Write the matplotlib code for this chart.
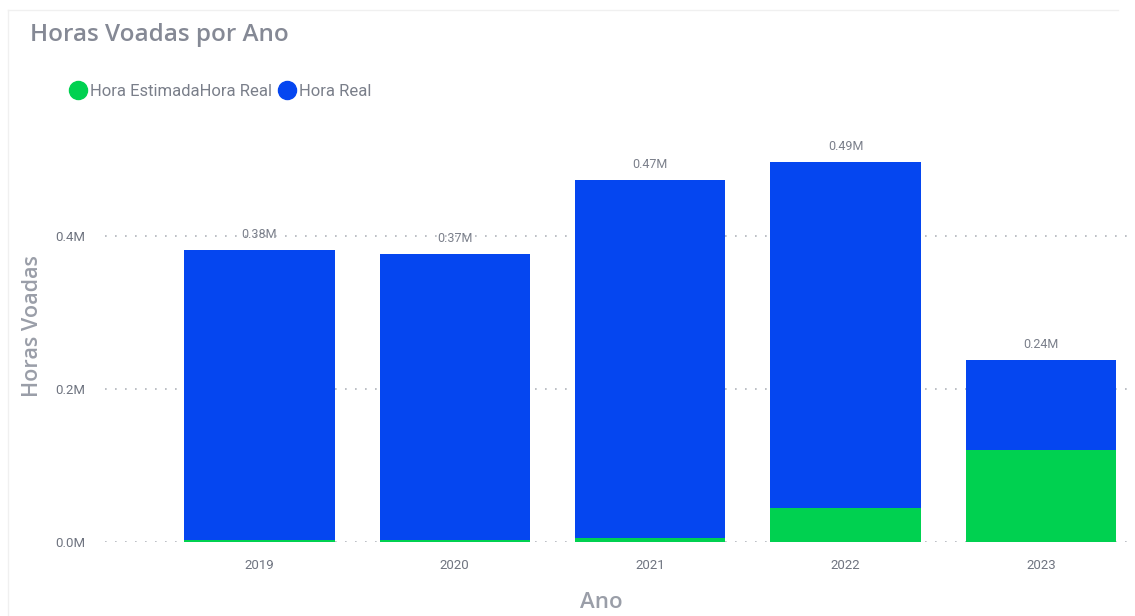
import matplotlib
matplotlib.use("Agg")
import matplotlib.pyplot as plt
from matplotlib.lines import Line2D

# data (millions of hours)
anos = ["2019", "2020", "2021", "2022", "2023"]
hora_total = [0.382, 0.376, 0.473, 0.497, 0.238]
hora_estimada = [0.002, 0.002, 0.005, 0.044, 0.120]
rotulos = ["0.38M", "0.37M", "0.47M", "0.49M", "0.24M"]
y_ticks = [0.0, 0.2, 0.4]

azul = "#0546F0"
verde = "#00D150"

hora_real = [t - e for t, e in zip(hora_total, hora_estimada)]

fig = plt.figure(figsize=(11.35, 6.16), dpi=100)
ax = fig.add_axes([0.0925, 0.1201, 0.9055, 0.6705])

x = range(len(anos))
ax.bar(x, hora_estimada, width=0.77, color=verde, zorder=3)
ax.bar(x, hora_real, width=0.77, bottom=hora_estimada, color=azul, zorder=3)

for i, t in enumerate(hora_total):
    ax.text(i, t + 0.012, rotulos[i], ha="center", va="bottom",
            fontsize=9, color="#7a7f8a", family="Roboto")

ax.set_xlim(-0.79, 4.47)
ax.set_ylim(0, 0.54)
ax.set_xticks(list(x))
ax.set_xticklabels(anos, fontsize=9.5, color="#6f7480", family="Roboto")
ax.set_yticks(y_ticks)
ax.set_yticklabels([f"{v:.1f}M" for v in y_ticks], fontsize=9.5,
                   color="#6f7480", family="Roboto")
ax.tick_params(length=0, pad=12)
ax.tick_params(axis="y", pad=14)
ax.grid(axis="y", linestyle=(0, (1, 5)), color="#b0b4bb", linewidth=1.2, zorder=0)
for s in ax.spines.values():
    s.set_visible(False)

fig.text(0.530, 0.022, "Ano", ha="center", va="center", fontsize=16,
         color="#9a9ea8", family="Open Sans", weight="semibold")
fig.text(0.029, 0.47, "Horas Voadas", rotation=90, ha="center", va="center",
         fontsize=15.5, color="#9a9ea8", family="Open Sans", weight="semibold")

fig.text(0.026, 0.943, "Horas Voadas por Ano", fontsize=17.5, color="#858995",
         family="Open Sans", va="center", weight="semibold")

handles = [
    Line2D([], [], marker="o", linestyle="", markersize=13, color=verde),
    Line2D([], [], marker="o", linestyle="", markersize=13, color=azul),
]
fig.legend(handles, ["Hora EstimadaHora Real", "Hora Real"], loc="center left",
           bbox_to_anchor=(0.047, 0.852), ncol=2, frameon=False,
           handletextpad=0.1, columnspacing=0.3, handlelength=1.2,
           prop={"family": "Roboto", "size": 12}, labelcolor="#7a7f8a")

# faint card border
fig.add_artist(Line2D([0.007, 0.007], [0, 0.984], color="#f0f0f0", lw=1))
fig.add_artist(Line2D([0.007, 0.985], [0.984, 0.984], color="#f0f0f0", lw=1))

fig.savefig("out.png", dpi=100)
